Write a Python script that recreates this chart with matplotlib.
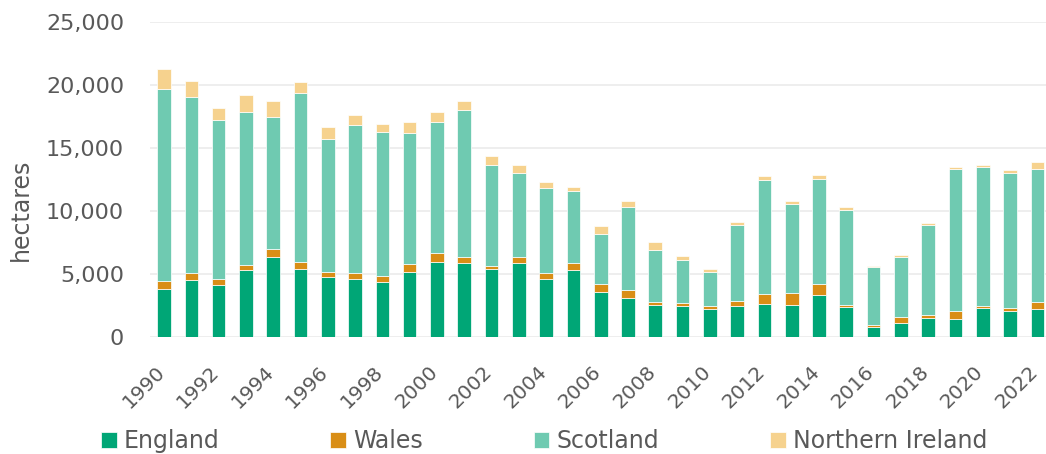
import matplotlib
matplotlib.use("Agg")
import matplotlib.pyplot as plt
import matplotlib.transforms as mtrans
import numpy as np
from matplotlib.ticker import FuncFormatter

# Woodland planting by country, hectares
years = list(range(1990, 2023))
england = [3770, 4540, 4140, 5280, 6315, 5360, 4725, 4615, 4350, 5120,
           5930, 5865, 5360, 5865, 4590, 5280, 3610, 3130, 2545, 2470,
           2255, 2480, 2655, 2575, 3345, 2415, 820, 1140, 1485, 1405,
           2335, 2070, 2255]
wales = [635, 505, 425, 450, 665, 585, 425, 450, 530, 665,
         715, 450, 290, 450, 480, 610, 585, 610, 265, 210,
         240, 345, 770, 900, 900, 135, 105, 425, 240, 665,
         135, 265, 555]
scotland = [15255, 14010, 12655, 12125, 10480, 13400, 10560, 11755, 11385, 10425,
            10400, 11730, 8040, 6740, 6740, 5705, 3955, 6580, 4115, 3450,
            2680, 6025, 9020, 7060, 8330, 7510, 4620, 4750, 7135, 11250,
            10985, 10665, 10510]
n_ireland = [1620, 1245, 930, 1330, 1275, 875, 955, 770, 635, 820,
             850, 665, 690, 635, 530, 345, 665, 505, 585, 320,
             240, 265, 345, 265, 320, 240, 80, 210, 210, 210,
             210, 265, 530]

series = [("England", england, "#00A676"),
          ("Wales", wales, "#D98E16"),
          ("Scotland", scotland, "#6FCAB1"),
          ("Northern Ireland", n_ireland, "#F6D28E")]

grey = "#595959"
plt.rcParams["font.family"] = ["DejaVu Sans"]

fig = plt.figure(figsize=(10.46, 4.54), dpi=100)
W, H = 1046, 454
# plot area runs a little past the right edge, like the original
ax = fig.add_axes([150.4 / W, 1 - 337 / H, 900.6 / W, 315 / H])

x = np.arange(len(years))
bottom = np.zeros(len(years))
for name, vals, col in series:
    ax.bar(x, vals, width=0.5, bottom=bottom, color=col, label=name,
           edgecolor="white", linewidth=0.5, zorder=3)
    bottom += np.array(vals)

ax.set_ylim(0, 25000)
ax.set_xlim(-0.5, len(years) - 0.5)
ax.set_yticks(range(0, 25001, 5000))
ax.yaxis.set_major_formatter(FuncFormatter(lambda v, p: f"{int(v):,}"))
ax.grid(axis="y", color="#EDEDED", linewidth=1.3, zorder=0)
for s in ax.spines.values():
    s.set_visible(False)
ax.tick_params(axis="both", length=0, colors=grey)
ax.tick_params(axis="y", pad=19, labelsize=16)

ax.set_xticks(x[::2])
ax.set_xticklabels([str(y) for y in years[::2]], rotation=45, ha="right",
                   rotation_mode="anchor", fontsize=14.5, color=grey)
ax.tick_params(axis="x", pad=8)
shift = mtrans.ScaledTranslation(-9 / 100, -14 / 100, fig.dpi_scale_trans)
for lab in ax.get_xticklabels():
    lab.set_transform(lab.get_transform() + shift)

fig.text(21 / W, 1 - 210 / H, "hectares", rotation=90, ha="center", va="center",
         fontsize=17, color=grey)

fig.legend(loc="center left", bbox_to_anchor=(101 / W, 1 - 441 / H), ncol=4,
           frameon=False, fontsize=17, handlelength=0.66, handleheight=0.66,
           handletextpad=0.3, columnspacing=4.7, labelcolor=grey,
           borderaxespad=0, borderpad=0)

fig.savefig("out.png", dpi=100)
